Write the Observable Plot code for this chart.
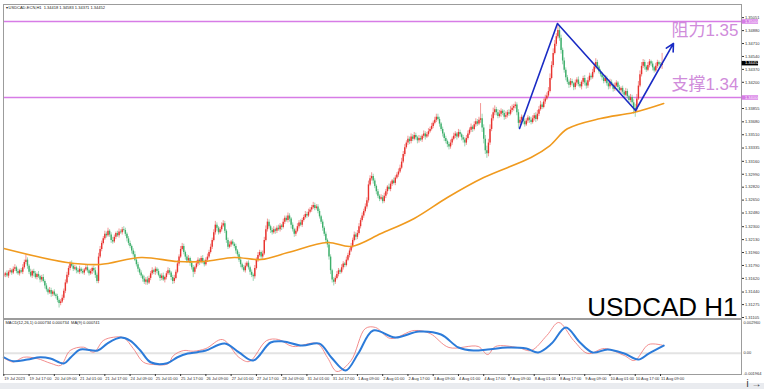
<!DOCTYPE html>
<html><head><meta charset="utf-8">
<script src="https://cdn.jsdelivr.net/npm/d3@7"></script>
<script src="https://cdn.jsdelivr.net/npm/@observablehq/plot@0.6"></script>
<style>
html,body{margin:0;padding:0;background:#e9ebef;}
#wrap{position:relative;width:764px;height:389px;overflow:hidden;}
#bg{position:absolute;left:0;top:0;width:764px;height:383px;background:#fff;}
#price{position:absolute;left:0;top:0;}
#macd{position:absolute;left:0;top:318px;}
</style></head><body>
<div id="wrap"><div id="bg"></div><div id="price"></div><div id="macd"></div></div>
<script>
// ---------- DATA ----------
const titleText = "▾ USDCAD-ECN,H1  1.34418 1.34583 1.34371 1.34452";
const macdTitle = "MACD(12,26,1) 0.000734 0.000734  MA(9) 0.000741";
const firstOpen = 165; // pips above 1.3000
// hourly closes, pips above 1.3000 (bar 0 = 19 Jul 01:00)
const closes = [
166,168,165,170,172,169,174,176,171,168,172,170,176,183,186,178,170,165,171,168,
163,167,164,160,163,158,152,147,143,146,141,144,140,138,133,129,131,136,145,156,
166,175,181,178,174,176,172,170,174,171,169,173,176,172,168,171,175,172,166,158,
190,200,208,214,220,218,224,219,212,210,216,221,218,223,222,226,225,220,214,208,
204,198,193,186,180,174,169,165,161,157,160,156,162,168,172,170,174,171,166,162,
165,160,163,168,172,169,163,158,162,170,181,190,200,204,196,190,185,188,182,176,
170,176,181,186,183,188,184,180,186,190,196,203,212,222,232,228,222,226,231,234,
224,212,203,206,210,207,204,198,193,186,180,176,172,178,182,176,170,166,164,175,
186,192,196,190,194,212,226,236,230,225,222,226,224,228,226,231,229,236,241,238,
244,240,232,226,220,224,230,235,232,238,242,246,244,249,252,255,258,254,256,250,
243,236,228,220,212,206,190,172,160,157,162,167,172,170,176,181,179,186,192,198,
204,212,219,216,221,230,238,244,250,256,264,285,293,296,290,283,276,270,266,268,
263,270,276,282,279,286,290,287,294,298,302,307,315,325,334,340,345,342,348,345,
350,347,343,346,344,349,352,348,351,355,358,362,366,370,374,371,365,358,352,346,
342,338,335,340,345,349,352,348,354,351,347,344,340,346,352,357,361,358,364,368,
365,370,372,360,345,330,326,340,358,372,380,384,380,375,378,382,379,374,376,380,
378,383,386,388,390,380,366,370,374,368,364,369,373,370,367,372,376,371,378,384,
390,387,394,398,402,408,425,442,458,470,480,488,478,462,448,436,426,420,416,421,
418,413,419,423,417,414,420,425,419,415,422,428,426,433,440,446,440,434,430,426,
421,425,418,414,420,416,411,415,419,413,409,412,407,403,408,401,396,400,393,386,
384,398,415,430,441,446,440,436,442,447,444,439,435,441,446,443,442,445];
// wick length above body / below body, pips
const upperWick = [
3,2,4,2,3,2,3,4,2,3,2,3,4,3,7,3,2,4,2,3, 3,2,4,2,3,4,2,3,2,4,3,2,3,2,3,2,3,4,3,4,
4,3,3,4,2,3,2,3,4,2,3,2,3,4,2,3,2,3,4,3, 5,4,3,3,4,3,4,2,3,4,3,2,3,4,3,3,4,3,2,3,
3,2,3,4,2,3,2,3,2,4,3,4,3,3,4,2,3,2,3,2, 3,4,2,3,4,3,2,3,4,3,4,3,4,4,3,2,3,4,2,3,
3,2,4,3,2,3,4,2,3,4,3,4,3,4,5,3,2,3,4,4, 3,2,3,4,2,3,2,3,2,3,4,2,3,4,2,3,2,3,2,4,
3,4,3,2,4,4,5,4,3,2,3,4,2,3,4,3,2,4,3,3, 4,3,2,3,2,3,4,3,4,3,3,4,3,4,3,3,4,3,3,3,
3,2,3,2,3,2,4,3,2,3,3,4,3,2,4,3,2,4,3,3, 4,3,4,3,4,4,3,4,3,4,4,5,4,5,3,3,2,3,2,4,
3,4,3,2,4,3,2,4,3,3,4,4,5,4,4,3,4,3,4,3, 4,3,2,4,3,2,4,3,3,4,3,4,3,4,4,4,3,2,3,2,
3,2,3,4,3,4,3,2,4,3,2,3,3,4,4,3,4,2,4,4, 3,4,20,6,4,5,6,5,6,5,6,5,3,4,5,3,2,4,5,3,
4,5,4,3,4,3,4,4,3,2,4,3,3,2,4,4,3,4,5,4, 5,3,4,5,4,5,6,5,6,5,4,9,5,4,3,4,3,3,3,4,
3,2,4,3,4,3,2,3,4,3,4,4,3,4,5,5,3,2,3,3, 2,4,3,2,4,3,2,4,3,2,3,2,3,2,4,3,2,4,3,4,
5,6,6,5,5,4,3,2,4,3,2,3,2,4,3,2,3,13];
const lowerWick = [
2,3,2,3,2,3,2,3,3,2,3,2,3,2,3,4,3,2,3,4, 2,3,2,4,3,2,4,3,3,2,4,3,2,3,3,6,3,2,3,3,
2,3,3,2,3,2,4,2,3,3,2,3,2,3,3,2,4,3,4,3, 3,2,3,2,2,3,2,3,4,3,2,3,2,3,2,3,2,3,4,3,
3,4,3,2,3,4,3,3,4,3,4,3,2,3,2,3,4,3,2,4, 3,2,4,3,2,3,4,4,3,2,2,3,2,2,3,4,3,2,4,3,
7,3,2,3,4,2,3,3,2,3,2,2,3,2,3,4,3,2,3,2, 3,4,3,2,3,2,3,4,3,3,4,3,2,3,2,3,4,3,6,3,
2,3,2,4,3,2,2,3,3,4,3,2,4,3,2,3,4,2,3,2, 3,4,5,3,4,3,2,3,2,3,2,2,3,2,2,3,2,3,2,3,
3,3,4,3,4,4,4,5,4,5,3,2,3,3,2,3,3,2,2,3, 2,3,2,4,3,2,3,2,3,2,3,3,2,3,4,3,4,3,3,2,
3,2,3,4,2,3,3,2,3,2,3,2,2,2,3,2,3,4,3,3, 2,3,4,3,2,3,3,4,2,3,2,2,3,2,3,2,4,3,4,4,
3,4,4,3,3,2,3,4,2,3,4,4,5,3,2,2,3,4,2,3, 3,2,4,6,6,5,6,4,3,3,3,4,4,3,2,4,3,4,3,3,
3,2,3,4,3,4,7,3,3,4,3,2,3,4,3,2,3,4,2,3, 2,3,2,3,2,2,2,2,3,2,3,3,4,5,5,4,4,3,4,3,
3,4,3,4,3,2,4,3,4,4,3,2,3,2,2,3,4,3,3,4, 3,2,3,4,3,2,4,3,2,3,4,4,3,4,2,3,4,3,4,8,
10,3,2,2,3,3,4,3,2,3,3,4,3,2,3,3,3,5];
// moving average (bar index, price)
const maLine = [[0,1.32013],[40,1.31829],[61,1.31803],[87,1.31895],[110,1.31842],[127,1.31842],[146,1.31895],[163,1.31868],[180,1.3196],[205,1.32092],[220,1.3204],[239,1.3221],[260,1.32408],[281,1.32684],[304,1.32947],[334,1.3321],[346,1.33368],[357,1.33588],[378,1.33724],[399,1.33803],[418,1.33921]];
// hand-drawn zig-zag (bar index, price)
const zigzag = [[326.7,1.33592],[350.7,1.34974],[400.2,1.33829],[424.2,1.34711]];
const levels = [1.35, 1.34];
const levelNotes = ["阻力1.35", "支撑1.34"];
const priceTicks = [1.35051,1.34880,1.34710,1.34540,1.34370,1.34200,1.33855,1.33680,1.33510,1.33335,1.33160,1.32990,1.32820,1.32650,1.32480,1.32300,1.32130,1.31960,1.31790,1.31620,1.31440,1.31275,1.31105];
const lastPrice = 1.34452;
// MACD main (thin red) and signal (thick blue): (bar index, value)
const macdMain = [[0,-0.00046],[6,-0.00085],[12.5,-0.00039],[21,-0.00051],[30,-0.00099],[36,-0.00118],[42,0.00026],[50.5,0.00058],[57,0.0001],[63,0.00122],[69.5,0.00154],[76,0.00148],[82,0.00045],[88.5,-0.00087],[95,-0.00109],[104,-0.00102],[107.5,-0.00022],[114,0.00026],[120,0.00019],[128,0.00045],[138.5,0.00132],[149,-0.00041],[155.5,-0.0008],[166.5,0.00122],[174,0.00132],[183,0.00065],[198.5,0.00093],[205,-0.00041],[211,-0.00176],[220,-0.0007],[229,0.00238],[235.5,0.00248],[245,0.00142],[260,0.00219],[270,0.0019],[282,0.00055],[300.5,0.00065],[306.5,-0.00013],[311.5,0.00065],[325.5,0.00055],[334,0.00026],[344,0.00171],[351.5,0.00296],[361,0.00122],[370,-0.00003],[380.5,0.00045],[393,-0.00022],[399.5,-0.0007],[408.5,0.00084],[418,0.00074]];
const macdSignal = [[0,-0.00039],[6,-0.00077],[15,-0.00061],[23,-0.00039],[29.5,-0.00051],[38,-0.00099],[42.5,-0.00039],[48.5,0.00036],[59.5,0.00026],[65.5,0.00093],[74,0.00151],[80,0.00122],[86.5,0.00026],[93,-0.00087],[103.5,-0.00096],[110,-0.00039],[116.5,-0.00003],[122.5,0.0001],[128,0.00026],[140,0.00093],[149,0.00007],[158,-0.0007],[169,0.00103],[177,0.00113],[189,0.00074],[200,0.00093],[207.5,-0.00041],[216.5,-0.00167],[224.5,-0.00003],[234,0.00219],[248,0.00151],[263,0.00209],[277,0.0018],[288,0.00055],[297.5,0.00026],[306.5,0.00036],[319,0.00055],[331,0.00045],[338.5,0.00007],[347,0.00093],[356,0.00248],[365,0.00103],[373,0.00007],[382.5,0.00036],[393,-0.00003],[402,-0.00061],[408.5,-0.00003],[418,0.00074]];
const macdTicks = [0.00296, 0, -0.001964];
const macdTickText = ["0.002960", "0.00", "-0.001964"];
const timeLabels = ["19 Jul 2023","19 Jul 17:00","20 Jul 09:00","21 Jul 01:00","21 Jul 17:00","24 Jul 09:00","25 Jul 01:00","25 Jul 17:00","26 Jul 09:00","27 Jul 01:00","27 Jul 17:00","28 Jul 09:00","31 Jul 01:00","31 Jul 17:00","1 Aug 09:00","2 Aug 01:00","2 Aug 17:00","3 Aug 09:00","4 Aug 01:00","4 Aug 17:00","7 Aug 09:00","8 Aug 01:00","8 Aug 17:00","9 Aug 09:00","10 Aug 01:00","10 Aug 17:00","11 Aug 09:00"];
const barsPerLabel = 16;

// ---------- BUILD ----------
const P = p => 1.3 + p / 10000;
const bars = closes.map((c, i) => {
  const o = i === 0 ? firstOpen : closes[i - 1];
  return {i, open: P(o), close: P(c), high: P(Math.max(o, c) + upperWick[i]), low: P(Math.min(o, c) - lowerWick[i]), up: c >= o};
});
const UP = "#e8322e", DN = "#3daf6b";
const xDomain = [-0.2, 467.3];
const boxW = 10.8;
const small = {fontSize: 4, fontFamily: "Liberation Sans, Arial, sans-serif"};
const pink = "#d77ce6";

const price = Plot.plot({
  width: 764, height: 318,
  marginLeft: 3, marginRight: 23, marginTop: 4, marginBottom: 0,
  style: {background: "transparent", overflow: "visible", color: "#333"},
  x: {domain: xDomain, axis: null},
  y: {domain: [1.310921, 1.352237], axis: null},
  marks: [
    Plot.ruleY(levels, {x1: xDomain[0], x2: xDomain[1] + boxW, stroke: pink, strokeWidth: 1.3}),
    Plot.ruleX(bars, {x: "i", y1: "low", y2: "high", stroke: d => d.up ? UP : DN, strokeOpacity: 0.5, strokeWidth: 1}),
    Plot.ruleX(bars, {x: "i", y1: "open", y2: "close", stroke: d => d.up ? UP : DN, strokeWidth: 1.4}),
    Plot.line(maLine, {x: d => d[0], y: d => d[1], curve: "catmull-rom", stroke: "#f09a1e", strokeWidth: 1.6}),
    Plot.line(zigzag.slice(0, 3), {x: d => d[0], y: d => d[1], stroke: "#1a2bc4", strokeWidth: 1.6}),
    Plot.arrow([zigzag], {x1: d => d[2][0], y1: d => d[2][1], x2: d => d[3][0], y2: d => d[3][1], stroke: "#1a2bc4", strokeWidth: 1.6, headLength: 8, headAngle: 55}),
    Plot.frame({stroke: "#9c9c9c"}),
    Plot.axisY({anchor: "right", ticks: priceTicks, tickSize: 2, tickPadding: 1.5, tickFormat: d => d.toFixed(5), ...small}),
    Plot.ruleY(levels, {x1: xDomain[1] + 0.4, x2: xDomain[1] + boxW, stroke: pink, strokeWidth: 4.5}),
    Plot.text(levels, {y: d => d, text: d => d.toFixed(5), frameAnchor: "right", textAnchor: "start", dx: 3.5, fill: "white", ...small}),
    Plot.ruleY([lastPrice], {x1: xDomain[1] + 0.4, x2: xDomain[1] + boxW, stroke: "#000", strokeWidth: 4.5}),
    Plot.text([lastPrice], {y: d => d, text: d => d.toFixed(5), frameAnchor: "right", textAnchor: "start", dx: 3.5, fill: "white", ...small}),
    Plot.text([levels[0]], {y: d => d, text: () => levelNotes[0], frameAnchor: "right", textAnchor: "end", lineAnchor: "top", dx: -3, dy: 2, fontSize: 17, fill: "#d08cdb", fontFamily: "Liberation Sans, Noto Sans CJK SC, sans-serif"}),
    Plot.text([levels[1]], {y: d => d, text: () => levelNotes[1], frameAnchor: "right", textAnchor: "end", lineAnchor: "bottom", dx: -3, dy: -8, fontSize: 17, fill: "#d08cdb", fontFamily: "Liberation Sans, Noto Sans CJK SC, sans-serif"}),
    Plot.text(["USDCAD H1"], {text: d => d, frameAnchor: "bottom-right", textAnchor: "end", lineAnchor: "bottom", dx: -4, dy: -3, fontSize: 26, fill: "#000", fontFamily: "Liberation Sans, Arial, sans-serif"}),
    Plot.text([titleText], {text: d => d, frameAnchor: "top-left", textAnchor: "start", lineAnchor: "top", dx: 2, dy: 1.5, fill: "#222", ...small})
  ]
});
document.getElementById("price").appendChild(price);

const tickData = timeLabels.map((t, k) => ({i: k * barsPerLabel, t}));
const macd = Plot.plot({
  width: 764, height: 71,
  marginLeft: 3, marginRight: 23, marginTop: 1, marginBottom: 15,
  style: {background: "transparent", overflow: "visible", color: "#333"},
  x: {domain: xDomain, axis: null},
  y: {domain: [-0.002052, 0.003249], axis: null},
  marks: [
    Plot.ruleY([0], {stroke: "#e3e3e3", strokeWidth: 2}),
    Plot.line(macdMain, {x: d => d[0], y: d => d[1], curve: "catmull-rom", stroke: "#f08080", strokeWidth: 0.9}),
    Plot.line(macdSignal, {x: d => d[0], y: d => d[1], curve: "catmull-rom", stroke: "#2c7bd9", strokeWidth: 2}),
    Plot.frame({stroke: "#9c9c9c"}),
    Plot.text(macdTicks, {y: d => d, text: (d, k) => macdTickText[k], frameAnchor: "right", textAnchor: "start", dx: 2, ...small}),
    Plot.text([macdTitle], {text: d => d, frameAnchor: "top-left", textAnchor: "start", lineAnchor: "top", dx: 2, dy: 1.5, fill: "#222", ...small}),
    Plot.axisX({anchor: "bottom", ticks: tickData.map(d => d.i), tickSize: 2, tickFormat: () => ""}),
    Plot.text(tickData, {x: "i", text: "t", frameAnchor: "bottom", textAnchor: "start", lineAnchor: "top", dx: 0.5, dy: 3, ...small})
  ]
});
document.getElementById("macd").appendChild(macd);
</script>
</body></html>
